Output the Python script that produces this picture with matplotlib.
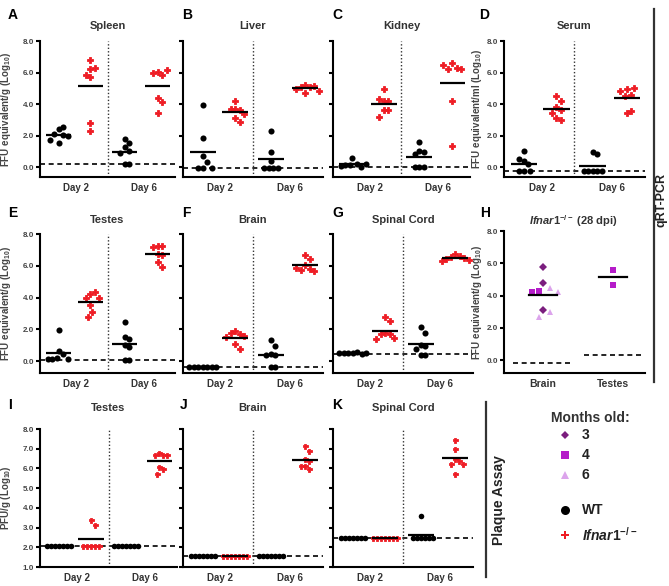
import numpy as np
import matplotlib.pyplot as plt

plt.rcParams['font.family'] = ['Liberation Sans', 'DejaVu Sans']
plt.rcParams['mathtext.fontset'] = 'custom'
plt.rcParams['mathtext.rm'] = 'Liberation Sans:bold'
plt.rcParams['mathtext.it'] = 'Liberation Sans:italic:bold'
plt.rcParams['mathtext.bf'] = 'Liberation Sans:bold'

# ---- data (log10 titres) ----
# qRT-PCR, row 1
spleen_wt_d2 = [2.4, 2.55, 2.05, 2.1, 1.95, 1.55, 1.7]
spleen_ko_d2 = [6.8, 6.2, 6.3, 5.85, 5.7, 2.8, 2.3]
spleen_wt_d6 = [1.8, 1.5, 1.25, 1.0, 0.9, 0.17, 0.17]
spleen_ko_d6 = [6.05, 5.85, 6.0, 6.15, 4.4, 4.1, 3.4]

liver_wt_d2 = [3.95, 1.85, 0.7, 0.3, -0.05, -0.05, -0.05]
liver_ko_d2 = [4.2, 3.7, 3.65, 3.7, 3.35, 3.1, 2.85]
liver_wt_d6 = [2.3, 0.95, 0.4, -0.05, -0.05, -0.05, -0.05]
liver_ko_d6 = [5.2, 5.1, 5.05, 5.15, 4.95, 4.7, 4.85]

kidney_wt_d2 = [0.6, 0.2, 0.15, 0.1, 0.0, 0.05, 0.2]
kidney_ko_d2 = [4.95, 4.2, 4.2, 4.35, 3.6, 3.6, 3.2]
kidney_wt_d6 = [1.6, 1.05, 0.95, 0.8, 0.0, 0.0, 0.0]
kidney_ko_d6 = [6.6, 6.3, 6.2, 6.25, 6.45, 4.2, 1.35]

serum_wt_d2 = [1.0, 0.4, 0.2, 0.5, -0.25, -0.25, -0.25]
serum_ko_d2 = [4.5, 4.2, 3.8, 3.6, 3.4, 3.1, 3.0]
serum_wt_d6 = [0.95, 0.8, -0.25, -0.25, -0.25, -0.25, -0.25]
serum_ko_d6 = [4.95, 4.55, 4.5, 4.85, 5.0, 3.4, 3.55]

# qRT-PCR, row 2
testes_wt_d2 = [1.95, 0.65, 0.45, 0.2, 0.1, 0.1, 0.1]
testes_ko_d2 = [4.2, 4.35, 4.0, 4.0, 3.55, 3.1, 2.75]
testes_wt_d6 = [2.45, 1.5, 1.4, 1.0, 0.9, 0.05, 0.05]
testes_ko_d6 = [7.25, 7.25, 7.2, 6.75, 6.7, 6.25, 5.95]

brain_wt_d2 = [-0.38] * 7
brain_ko_d2 = [1.9, 1.7, 1.75, 1.6, 1.5, 1.1, 0.75]
brain_wt_d6 = [1.3, 0.95, 0.42, 0.36, 0.36, -0.38, -0.38]
brain_ko_d6 = [6.65, 6.45, 6.05, 5.8, 5.75, 5.7, 5.85]

cord_wt_d2 = [0.5, 0.55, 0.5, 0.45, 0.5, 0.5, 0.5]
cord_ko_d2 = [2.8, 2.5, 1.75, 1.7, 1.7, 1.45, 1.4]
cord_wt_d6 = [2.15, 1.75, 1.0, 0.95, 0.75, 0.4, 0.4]
cord_ko_d6 = [6.75, 6.6, 6.55, 6.5, 6.45, 6.35, 6.3]

# Ifnar1-/- at 28 dpi, by age
h_brain_3mo = [5.8, 4.75, 3.1]
h_brain_4mo = [4.25, 4.3]
h_brain_6mo = [4.45, 4.2, 2.95, 2.65]
h_testes_4mo = [5.6, 4.65]
h_lod = [-0.17, 0.31]

# plaque assay, row 3
p_testes_wt_d2 = [2.05] * 7
p_testes_ko_d2 = [3.4, 3.15, 2.05, 2.05, 2.05, 2.05, 2.05]
p_testes_wt_d6 = [2.05] * 7
p_testes_ko_d6 = [6.8, 6.7, 6.7, 6.7, 6.05, 5.95, 5.7]

p_brain_wt_d2 = [1.56] * 7
p_brain_ko_d2 = [1.56] * 7
p_brain_wt_d6 = [1.56] * 7
p_brain_ko_d6 = [7.15, 6.9, 6.5, 6.4, 6.1, 6.1, 5.95]

p_cord_wt_d2 = [2.45] * 7
p_cord_ko_d2 = [2.45] * 7
p_cord_wt_d6 = [3.6, 2.45, 2.45, 2.45, 2.45, 2.45, 2.45]
p_cord_ko_d6 = [7.45, 7.0, 6.5, 6.4, 6.25, 6.25, 5.7]

# detection limits (dashed lines)
lod_rt = {'Spleen': 0.17, 'Liver': -0.06, 'Kidney': 0.0, 'Serum': -0.25,
          'Testes': 0.04, 'Brain': -0.38, 'Spinal Cord': 0.46}
lod_pa = {'Testes': 2.05, 'Brain': 1.56, 'Spinal Cord': 2.45}

days = ['Day 2', 'Day 6']

W, H = 669, 586
RED = '#ee1c24'
C3, C4, C6 = '#7b1e7e', '#b51cc9', '#dca4ec'
GREY = '#444444'

fig = plt.figure(figsize=(W / 100, H / 100), dpi=100)


def add_ax(l, t, r, b):
    return fig.add_axes([l / W, 1 - b / H, (r - l) / W, (b - t) / H])


def swarm(vals, px_x, px_y, step, sep_y=8.0):
    # points closer than sep_y pixels vertically are pushed sideways in
    # steps of `step` pixels, alternating right / left of the centre
    placed, offs = [], []
    cands = [0.0] + [s * i * 0.5 for i in range(1, 40) for s in (1, -1)]
    for v in vals:
        for c in cands:
            ox = c * step
            if all(((ox - px) / step) ** 2 + ((v - pv) * px_y / sep_y) ** 2 >= 0.96
                   for px, pv in placed):
                break
        placed.append((ox, v))
        offs.append(ox / px_x)
    return np.array(offs)


def px_scale(ax):
    bb = ax.get_position()
    x0, x1 = ax.get_xlim()
    y0, y1 = ax.get_ylim()
    return bb.width * W / (x1 - x0), bb.height * H / (y1 - y0)


def style_ax(ax, ylim, ticks, show_labels):
    ax.set_ylim(*ylim)
    ax.set_yticks(ticks)
    if show_labels:
        ax.set_yticklabels([f'{t:.1f}' for t in ticks])
    else:
        ax.set_yticklabels([])
    for s in ['top', 'right']:
        ax.spines[s].set_visible(False)
    for s in ['left', 'bottom']:
        ax.spines[s].set_linewidth(1.5)
    ax.spines['left'].set_bounds(ylim[0], ticks[-1])
    ax.tick_params(axis='y', length=3, width=1.5, labelsize=5.8, pad=1.5,
                   labelcolor=GREY)
    ax.tick_params(axis='x', length=0, labelsize=7, pad=4, labelcolor='#333333')
    for lab in ax.get_yticklabels() + ax.get_xticklabels():
        lab.set_fontweight('bold')
    ax.patch.set_alpha(0)


POS = [0, 1, 2.1, 3.15]


def strip_panel(box, groups, lod, ylim, ticks, show_labels, step, ms_wt, ms_ko):
    ax = add_ax(*box)
    ax.set_xlim(-0.6, 3.7)
    style_ax(ax, ylim, ticks, show_labels)
    ax.set_xticks([0.55, 2.7])
    ax.set_xticklabels(days)
    for lab in ax.get_xticklabels():
        lab.set_fontweight('bold')
    px_x, px_y = px_scale(ax)
    ax.axhline(lod, color='black', lw=1.2, ls=(0, (3, 2.2)), zorder=1)
    ax.axvline(1.55, color='#333333', lw=1.0, ls=(0, (1, 1.5)), zorder=1)
    for i, (x0, vals) in enumerate(zip(POS, groups)):
        vals = np.asarray(vals)
        offs = swarm(vals, px_x, px_y, step)
        if i % 2 == 0:
            ax.plot(x0 + offs, vals, 'o', color='black', ms=ms_wt, mew=0, zorder=3)
        else:
            ax.plot(x0 + offs, vals, 'P', color=RED, ms=ms_ko, mew=0.6,
                    mec=RED, zorder=3)
        ax.plot([x0 - 0.4, x0 + 0.4], [vals.mean()] * 2, color='black',
                lw=1.6, zorder=4, solid_capstyle='butt')
    return ax


rt_ylim1 = (-0.63, 8)
rt_ylim2 = (-0.75, 8)
rt_ticks = [0, 2, 4, 6, 8]
pa_ylim = (1, 8)
pa_ticks = [1, 2, 3, 4, 5, 6, 7, 8]

row1 = [
    ('A', 'Spleen', (40, 41, 175, 177), [spleen_wt_d2, spleen_ko_d2, spleen_wt_d6, spleen_ko_d6], True),
    ('B', 'Liver', (183, 41, 323, 177), [liver_wt_d2, liver_ko_d2, liver_wt_d6, liver_ko_d6], False),
    ('C', 'Kidney', (333, 41, 470, 177), [kidney_wt_d2, kidney_ko_d2, kidney_wt_d6, kidney_ko_d6], False),
    ('D', 'Serum', (504, 41, 645, 177), [serum_wt_d2, serum_ko_d2, serum_wt_d6, serum_ko_d6], True),
]
row2 = [
    ('E', 'Testes', (40, 234, 175, 373), [testes_wt_d2, testes_ko_d2, testes_wt_d6, testes_ko_d6], True),
    ('F', 'Brain', (183, 234, 323, 373), [brain_wt_d2, brain_ko_d2, brain_wt_d6, brain_ko_d6], False),
    ('G', 'Spinal Cord', (333, 234, 473, 373), [cord_wt_d2, cord_ko_d2, cord_wt_d6, cord_ko_d6], False),
]
row3 = [
    ('I', 'Testes', (40, 429, 177, 567), [p_testes_wt_d2, p_testes_ko_d2, p_testes_wt_d6, p_testes_ko_d6], True),
    ('J', 'Brain', (183, 429, 323, 567), [p_brain_wt_d2, p_brain_ko_d2, p_brain_wt_d6, p_brain_ko_d6], False),
    ('K', 'Spinal Cord', (333, 429, 473, 567), [p_cord_wt_d2, p_cord_ko_d2, p_cord_wt_d6, p_cord_ko_d6], False),
]

title_kw = dict(fontsize=8, fontweight='bold', color='#333333', ha='center', va='center')
letter_kw = dict(fontsize=10, fontweight='bold', color='black', ha='left', va='center')

for letter, name, box, groups, lab in row1:
    ax = strip_panel(box, groups, lod_rt[name], rt_ylim1, rt_ticks, lab, 4.5, 4.4, 4.0)
    if letter == 'A':
        ax.set_ylabel(r'FFU equivalent/g (Log$_{10}$)', fontsize=7, fontweight='bold', color=GREY)
        ax.yaxis.set_label_coords(-0.2, 0.5)
    if letter == 'D':
        ax.set_ylabel(r'FFU equivalent/ml (Log$_{10}$)', fontsize=7, fontweight='bold', color=GREY)
        ax.yaxis.set_label_coords(-0.14, 0.5)
    fig.text((box[0] + box[2]) / 2 / W, 1 - 26 / H, name, **title_kw)

for letter, name, box, groups, lab in row2:
    ax = strip_panel(box, groups, lod_rt[name], rt_ylim2, rt_ticks, lab, 4.5, 4.4, 4.0)
    if letter == 'E':
        ax.set_ylabel(r'FFU equivalent/g (Log$_{10}$)', fontsize=7, fontweight='bold', color=GREY)
        ax.yaxis.set_label_coords(-0.2, 0.5)
    fig.text((box[0] + box[2]) / 2 / W, 1 - 220 / H, name, **title_kw)

for letter, name, box, groups, lab in row3:
    ax = strip_panel(box, groups, lod_pa[name], pa_ylim, pa_ticks, lab, 4.0, 4.0, 3.6)
    if letter == 'I':
        ax.set_ylabel(r'PFU/g (Log$_{10}$)', fontsize=7, fontweight='bold', color=GREY)
        ax.yaxis.set_label_coords(-0.2, 0.5)
    fig.text((box[0] + box[2]) / 2 / W, 1 - 408 / H, name, **title_kw)

# panel H: Ifnar1-/- 28 dpi
axh = add_ax(504, 231, 645, 373)
axh.set_xlim(-0.55, 1.45)
style_ax(axh, (-0.8, 8), rt_ticks, True)
axh.set_xticks([0, 1])
axh.set_xticklabels(['Brain', 'Testes'], fontsize=7.5, fontweight='bold')
axh.set_ylabel(r'FFU equivalent/g (Log$_{10}$)', fontsize=7, fontweight='bold', color=GREY)
axh.yaxis.set_label_coords(-0.14, 0.5)
px_x, px_y = px_scale(axh)
brain_all = np.array(h_brain_3mo + h_brain_4mo + h_brain_6mo)
kinds = ['3'] * len(h_brain_3mo) + ['4'] * len(h_brain_4mo) + ['6'] * len(h_brain_6mo)
order = np.argsort(-brain_all)
offs = np.zeros(len(brain_all))
offs[order] = swarm(brain_all[order], px_x, px_y, 7.5)
mk = {'3': ('D', C3, 3.6), '4': ('s', C4, 4.6), '6': ('^', C6, 4.2)}
for k in ['6', '4', '3']:
    sel = np.array([kk == k for kk in kinds])
    m, c, s = mk[k]
    axh.plot(offs[sel], brain_all[sel], m, color=c, ms=s, mew=0, zorder=3)
t_vals = np.array(h_testes_4mo)
t_offs = swarm(t_vals, px_x, px_y, 7.5)
axh.plot(1 + t_offs, t_vals, 's', color=C4, ms=4.6, mew=0, zorder=3)
for x0, vals in [(0, brain_all), (1, t_vals)]:
    axh.plot([x0 - 0.2, x0 + 0.2], [vals.mean()] * 2, color='black', lw=1.6, zorder=4)
for x0, lv in zip([0, 1], h_lod):
    axh.plot([x0 - 0.42, x0 + 0.42], [lv, lv], color='black', lw=1.2,
             ls=(0, (3, 2.2)), zorder=1)
fig.text(573 / W, 1 - 221 / H, r'$Ifnar1^{-/-}$ (28 dpi)', **title_kw)

# panel letters
for letter, (x, y) in {'A': (8, 15), 'B': (182, 15), 'C': (332, 15), 'D': (479, 15),
                       'E': (8, 213), 'F': (182, 213), 'G': (332, 213), 'H': (480, 213),
                       'I': (8, 405), 'J': (180, 405), 'K': (332, 405)}.items():
    fig.text(x / W, 1 - y / H, letter, **letter_kw)

# overlay for dividers, side labels and legend
ov = fig.add_axes([0, 0, 1, 1])
ov.set_xlim(0, W)
ov.set_ylim(H, 0)
ov.axis('off')
ov.patch.set_alpha(0)
ov.plot([654, 654], [9, 382], color='#333333', lw=1.6)
ov.plot([486, 486], [402, 577], color='#333333', lw=1.6)
ov.text(662, 200, 'qRT-PCR', rotation=90, ha='center', va='center',
        fontsize=9, fontweight='bold', color='#222222')
ov.text(499, 500, 'Plaque Assay', rotation=90, ha='center', va='center',
        fontsize=10, fontweight='bold', color='#222222')

ov.text(551, 418, 'Months old:', ha='left', va='center', fontsize=10,
        fontweight='bold', color='#333333')
leg_items = [(435, 'D', C3, 4.5, '3'), (455, 's', C4, 6, '4'), (475, '^', C6, 6, '6'),
             (510, 'o', 'black', 6.5, 'WT'), (535, 'P', RED, 5.5, r'$Ifnar1^{-/-}$')]
for y, m, c, s, lab in leg_items:
    ov.plot([565], [y], m, color=c, ms=s, mew=0)
    ov.text(582, y, lab, ha='left', va='center', fontsize=10, fontweight='bold',
            color='#222222')

fig.savefig('out.png', dpi=100)
